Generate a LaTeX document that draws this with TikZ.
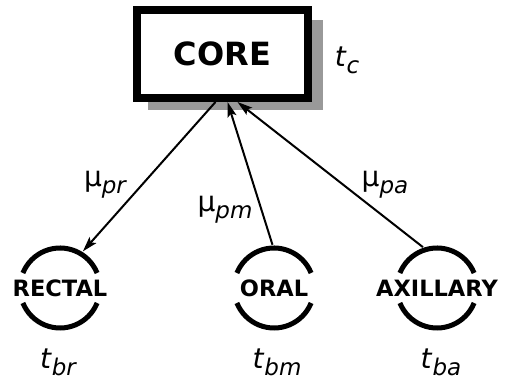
\documentclass[tikz,border=0pt]{standalone}
\usepackage{fontspec}
\setmainfont{DejaVu Sans}
\usepackage{tikz}
\usetikzlibrary{arrows.meta}
\newcommand{\lowsub}[1]{\raisebox{-7pt}{\fontsize{23}{23}\selectfont\itshape #1}}

\begin{document}
\begin{tikzpicture}[x=1pt,y=1pt,
  corebox/.style={rectangle,draw,line width=8pt,fill=white,minimum width=171pt,minimum height=88pt,inner sep=0pt},
  site/.style={circle,minimum size=86pt,inner sep=0pt},
  sitename/.style={font=\fontsize{22.5}{22.5}\selectfont\bfseries},
  ring/.style={line width=5pt},
  flow/.style={line width=2pt,-{Stealth[length=15pt,width=9pt,inset=3pt]}},
  lab/.style={font=\fontsize{28}{28}\selectfont}]
\useasboundingbox (0,0) rectangle (509,382);
\fill[black!40] (148,272) rectangle (323,362);
\node at (222.5,328) [corebox] (core) {\fontsize{32}{32}\selectfont\bfseries CORE};
\node at (347,322) [lab] (tc) {\textit{t}\lowsub{c}};
\node at (60,94) [site] (rectal) {};
\node at (274,94) [site] (oral) {};
\node at (437,94) [site] (axillary) {};
\node at (rectal) [sitename] (rectalname) {RECTAL};
\node at (oral) [sitename] (oralname) {ORAL};
\node at (axillary) [sitename] (axillaryname) {AXILLARY};
\foreach \s in {rectal,oral,axillary} {
  \draw[ring] ([shift={(22:40pt)}]\s.center) arc[start angle=22,end angle=158,radius=40pt];
  \draw[ring] ([shift={(-22:40pt)}]\s.center) arc[start angle=-22,end angle=-158,radius=40pt];
}
\node at (58,20) [lab] (tbr) {\textit{t}\lowsub{br}};
\node at (277,20) [lab] (tbm) {\textit{t}\lowsub{bm}};
\node at (441,20) [lab] (tba) {\textit{t}\lowsub{ba}};
\draw[flow] ([xshift=-7pt]core.south) -- (rectal.58);
\draw[flow] (oral.92) -- ([xshift=5pt]core.south);
\draw[flow] (axillary.109) -- ([xshift=15pt]core.south);
\node at (105,197) [lab] (mupr) {μ\lowsub{pr}};
\node at (225,172) [lab] (mupm) {μ\lowsub{pm}};
\node at (385,197) [lab] (mupa) {μ\lowsub{pa}};
\end{tikzpicture}
\end{document}
